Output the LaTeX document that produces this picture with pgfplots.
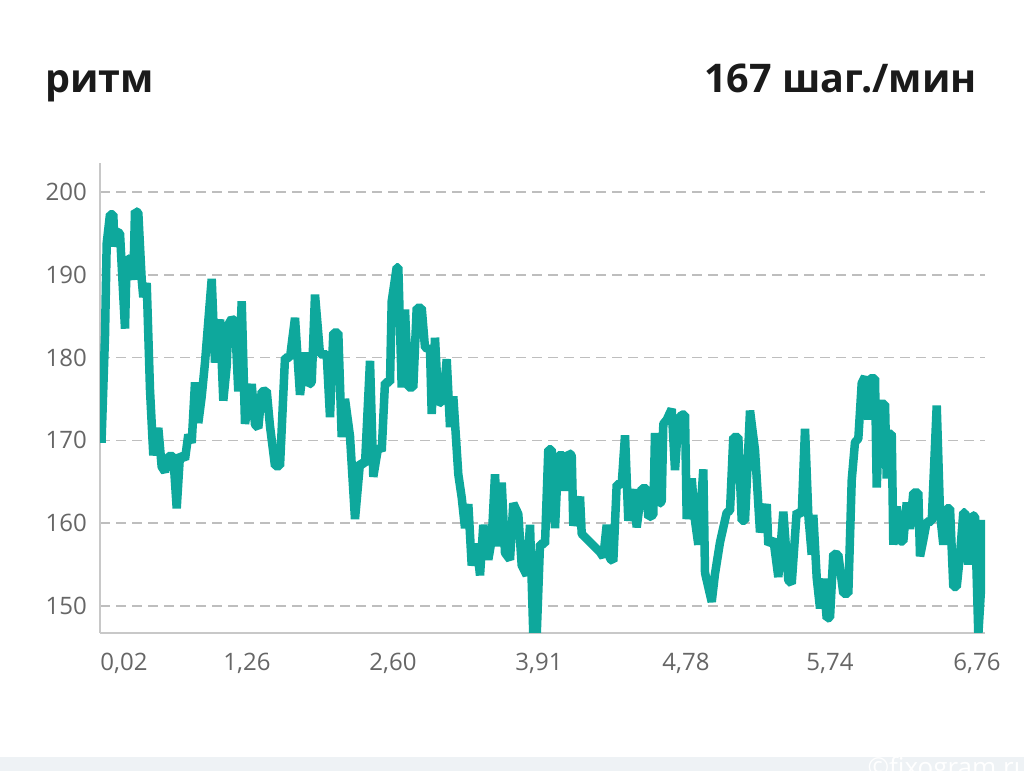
\documentclass[border=0pt]{standalone}
\usepackage{fontspec}
\setmainfont{Open Sans}
\usepackage{pgfplots}
\pgfplotsset{compat=1.18}
\definecolor{teal1}{RGB}{14,168,156}
\definecolor{gridc}{RGB}{190,190,190}
\definecolor{axc}{RGB}{200,200,200}
\definecolor{labc}{RGB}{102,102,102}
\definecolor{titc}{RGB}{26,26,26}
\definecolor{stripc}{RGB}{238,242,245}
\begin{document}
\begin{tikzpicture}[x=1bp,y=1bp]
\path[use as bounding box] (0,0) rectangle (1024,771);
\fill[white] (0,0) rectangle (1024,771);
\fill[stripc] (0,0) rectangle (1024,14);
\node[anchor=base east, inner sep=0pt, text=white, font=\fontsize{26bp}{28bp}\selectfont] at (1030,-6) {©fixogram.ru};
\node[anchor=base west, inner sep=0pt, text=titc, font=\fontsize{39.5bp}{44bp}\selectfont\bfseries] at (45,678.3) {ритм};
\node[anchor=base east, inner sep=0pt, text=titc, font=\fontsize{39.5bp}{44bp}\selectfont\bfseries] at (977,678.3) {167 шаг./мин};
\begin{axis}[
  at={(100bp,138bp)}, anchor=south west,
  scale only axis, width=885bp, height=470bp,
  xmin=100, xmax=985, ymin=146.74, ymax=203.5,
  axis x line*=bottom, axis y line*=left,
  axis line style={draw=axc, line width=1.5bp, -},
  xtick={124,247,393,539,686,830,977},
  xticklabels={{0,02},{1,26},{2,60},{3,91},{4,78},{5,74},{6,76}},
  ytick={150,160,170,180,190,200},
  yticklabels={150,160,170,180,190,200},
  major tick length=0pt,
  tick style={draw=none},
  ymajorgrids,
  major grid style={draw=gridc, line width=1.5bp, dash pattern=on 10bp off 6bp},
  tick label style={font=\fontsize{24bp}{28bp}\selectfont, text=labc, inner sep=0pt},
  yticklabel style={anchor=east, xshift=-13bp},
  xticklabel style={anchor=base, yshift=-38bp},
]
\addplot[teal1, line width=8.5bp, line join=bevel] coordinates {
(101.5,169.7) (105,182.6) (106.7,193.8) (110,197.3) (113.3,197.3) (114.5,193.4)
(116.7,195.2) (120,195.0) (125,183.5) (126.7,192.0) (130,191.8) (133.3,189.4)
(135,197.7) (138.3,197.5) (141.7,189.4) (143.3,187.3) (146.7,189.0) (150,176.1)
(153.3,168.2) (158.3,171.5) (161.7,166.8) (165,166.2) (168.3,168.1) (173.3,168.1)
(176.7,161.8) (180,168.3) (185,167.7) (188.3,170.7) (191.7,169.7) (195,177.0)
(198.3,172.1) (201.7,175.3) (205,179.4) (211.7,189.5) (215,179.4) (220,184.6)
(223.3,174.8) (226.7,179) (228.3,184.0) (231.7,184.7) (235,184.4) (238.3,175.9)
(241.7,186.8) (245,172.0) (251.7,176.8) (255,171.9) (258.3,171.5) (261.7,175.9)
(266.7,176.0) (270,171.7) (275,166.9) (280,166.9) (285,180.0) (290,180.0)
(295,184.8) (300,175.5) (305,180.6) (308.3,176.7) (311.7,177) (315,187.6)
(320,180.4) (326.7,180.4) (330,172.8) (333.3,183.0) (338.3,183.0) (341.7,170.4)
(345,175) (350,170.5) (355,160.5) (360,167.3) (365,167.1) (370,179.6)
(373.3,165.6) (378.3,169.3) (381.7,168.7) (385,177.0) (390,177) (391.7,186.8)
(396.7,190.9) (398.3,190.9) (401.7,176.4) (405,185.8) (408.3,176.4) (413.3,176.4)
(416.7,186.0) (421.7,186.0) (425,181.2) (430,181.0) (431.7,173.2) (435,182.4)
(438.3,174.4) (443.3,174.9) (446.7,179.8) (450,171.6) (453.3,175.3) (458.3,165.9)
(461.7,163.1) (465,159.4) (468.3,162.3) (471.7,154.9) (476.7,157.5) (480,153.7)
(483.3,159.8) (488.3,155.6) (491.7,158.0) (495,165.9) (498.3,157.2) (501.7,164.9)
(505,156.4) (510,155.6) (513.3,162.4) (518.3,161.1) (521.7,154.9) (526.7,153.7)
(530,159.8) (533.3,146.5) (536.7,146.5) (540,157.5) (545,157.5) (548.3,168.9)
(551.7,168.9) (555,159.4) (558.3,168.2) (563.3,168.2) (565,163.9) (568.3,168.5)
(571.7,168.2) (573.3,159.7) (580,163.2) (581.7,158.7) (586.7,158.1) (600,156.5)
(603.3,155.9) (606.7,159.8) (610,155.7) (613.3,155.4) (616.7,164.7) (621.7,164.7)
(625,170.6) (628.3,160.3) (633.3,164.1) (636.7,159.5) (641.7,164.2) (646.7,164.2)
(648.3,160.7) (653.3,161.0) (655,170.9) (658.3,162.3) (661.7,162.6) (663.3,172.0)
(666.7,172.5) (671.7,173.8) (675,166.4) (678.3,172.5) (681.7,173.1) (685,173.1)
(686.7,160.5) (691.7,165.4) (695,160.3) (698.3,157.4) (703.3,166.5) (705,154.0)
(711.7,150.5) (715,153.9) (720,157.7) (726.7,161.3) (730,161.5) (733.3,170.4)
(738.3,170.4) (741.7,160.3) (745,160.3) (750,173.6) (755,168.8) (760,158.9)
(766.7,162.3) (768.3,157.4) (773.3,158.1) (778.3,153.5) (783.3,161.4) (788.3,153.1)
(791.7,152.7) (796.7,161.4) (801.7,161) (805,171.4) (808.3,161) (811.7,156.2)
(813.3,161) (816.7,153.4) (820,149.7) (823.3,153.3) (826.7,148.5) (830,148.6)
(833.3,156.3) (838.3,156.2) (843.3,151.5) (848.3,151.5) (851.7,165.2) (855,169.8)
(858.3,170.2) (861.7,176.9) (865,177.7) (868.3,172.5) (870,177.5) (875,177.5)
(876.7,164.3) (880,174.4) (885,174.4) (886.7,165.4) (888.3,170.8) (891.7,170.8)
(893.3,157.4) (896.7,162) (900,157.8) (903.3,157.8) (906.7,162.5) (910,159.3)
(913.3,163.7) (918.3,163.7) (920,156.0) (923.3,158.0) (926.7,160.2) (931.7,160.2)
(936.7,174.2) (940,161.2) (943.3,157.4) (946.7,161.8) (950,161.8) (953.3,152.3)
(956.7,152.3) (960,156.2) (963.3,161.3) (965,161.3) (968.3,155.0) (971.7,161.0)
(975,160.8) (978.3,146.5) (981.7,153.5) (983.3,160.4)
};
\end{axis}
\end{tikzpicture}
\end{document}
